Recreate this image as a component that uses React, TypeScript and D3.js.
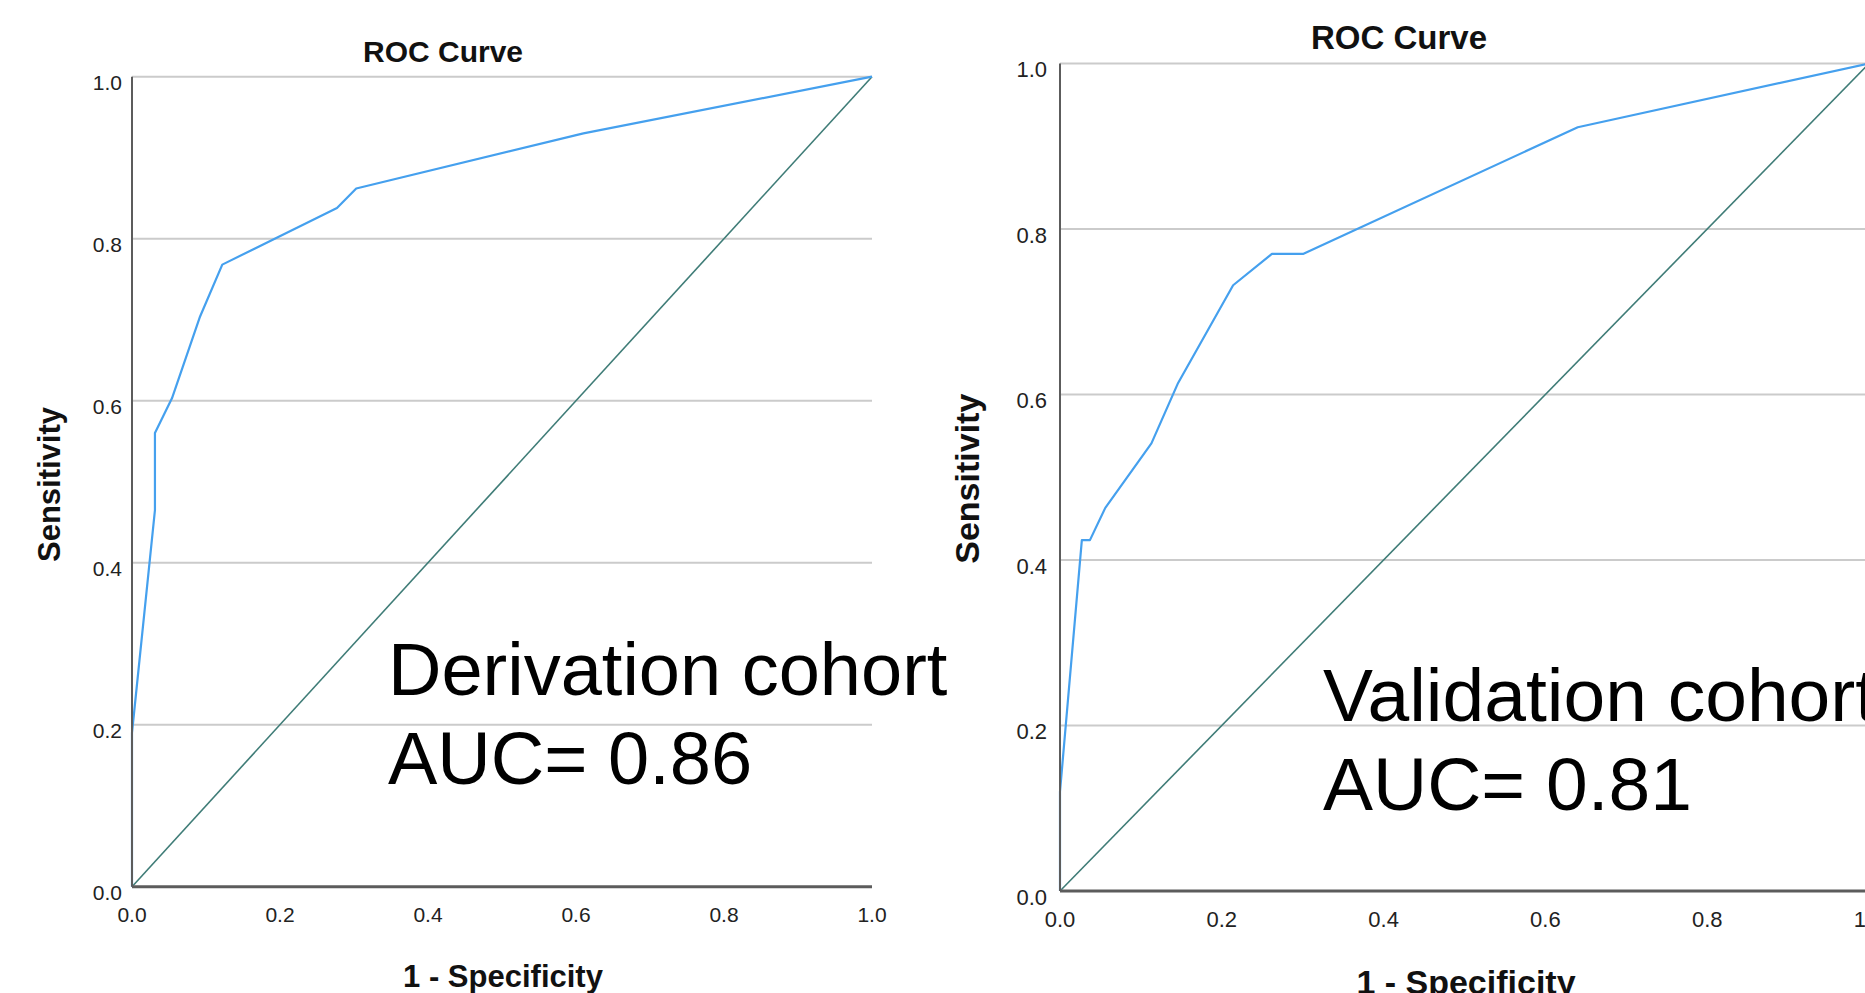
import React from "react";
import * as d3 from "d3";

// ---- Data ----
const ticks = [0, 0.2, 0.4, 0.6, 0.8, 1.0];
const tickLabels = ["0.0", "0.2", "0.4", "0.6", "0.8", "1.0"];

const derivationFpr = [0, 0, 0.031, 0.031, 0.054, 0.092, 0.122, 0.277, 0.303, 0.61, 1];
const derivationTpr = [0, 0.19, 0.465, 0.56, 0.603, 0.704, 0.768, 0.838, 0.862, 0.93, 1];

const validationFpr = [0, 0, 0.027, 0.037, 0.056, 0.113, 0.146, 0.214, 0.262, 0.301, 0.64, 1];
const validationTpr = [0, 0.12, 0.424, 0.424, 0.463, 0.541, 0.614, 0.732, 0.77, 0.77, 0.923, 1];

const referenceLine = [0, 1];

const chartTitle = "ROC Curve";
const xTitle = "1 - Specificity";
const yTitle = "Sensitivity";
const derivationLabel = ["Derivation cohort", "AUC= 0.86"];
const validationLabel = ["Validation cohort", "AUC= 0.81"];

// ---- Layout ----
const FONT = "'Liberation Sans', Arial, Helvetica, sans-serif";
const BLUE = "#45a0ee";
const TEAL = "#3f7c77";
const GRID = "#cbcbcb";
const AXIS = "#5c5c5c";

type PanelProps = {
  x0: number; x1: number; yTop: number; yBot: number;
  fpr: number[]; tpr: number[];
  tickFont: number; titleFont: number; titleX: number; titleY: number;
  axisFont: number; xTitleX: number; xTitleY: number; yTitleX: number; yTitleY: number;
  labels: string[]; labelX: number; labelY1: number; labelY2: number; labelFont: number;
  yTickGap: number;
};

function Panel(p: PanelProps) {
  const x = d3.scaleLinear().domain([0, 1]).range([p.x0, p.x1]);
  const y = d3.scaleLinear().domain([0, 1]).range([p.yBot, p.yTop]);
  const pts: [number, number][] = p.fpr.map((f, i) => [f, p.tpr[i]]);
  const line = d3.line<[number, number]>().x(d => x(d[0])).y(d => y(d[1]));
  const diag = d3.line<number>().x(d => x(d)).y(d => y(d));
  return (
    <g>
      {ticks.filter(t => t > 0).map(t => (
        <line key={"g" + t} x1={x(0)} x2={x(1)} y1={y(t)} y2={y(t)} stroke={GRID} strokeWidth={2} />
      ))}
      <path d={diag(referenceLine) || ""} fill="none" stroke={TEAL} strokeWidth={1.6} />
      <path d={line(pts) || ""} fill="none" stroke={BLUE} strokeWidth={2.2} strokeLinejoin="round" />
      <line x1={x(0)} x2={x(0)} y1={y(1)} y2={y(0)} stroke={AXIS} strokeWidth={2} />
      <line x1={x(0)} x2={x(1)} y1={y(0)} y2={y(0)} stroke={AXIS} strokeWidth={3} />
      {ticks.map((t, i) => (
        <text key={"yt" + t} x={x(0) - p.yTickGap} y={y(t) + 13.5} textAnchor="end"
          fontFamily={FONT} fontSize={p.tickFont} fill="#222">{tickLabels[i]}</text>
      ))}
      {ticks.map((t, i) => (
        <text key={"xt" + t} x={x(t)} y={y(0) + 35.5} textAnchor="middle"
          fontFamily={FONT} fontSize={p.tickFont} fill="#222">{tickLabels[i]}</text>
      ))}
      <text x={p.titleX} y={p.titleY} textAnchor="middle" fontFamily={FONT} fontWeight="bold"
        fontSize={p.titleFont} fill="#111">{chartTitle}</text>
      <text x={p.xTitleX} y={p.xTitleY} textAnchor="middle" fontFamily={FONT} fontWeight="bold"
        fontSize={p.axisFont} fill="#111">{xTitle}</text>
      <text transform={`translate(${p.yTitleX},${p.yTitleY}) rotate(-90)`} textAnchor="middle"
        fontFamily={FONT} fontWeight="bold" fontSize={p.axisFont} fill="#111">{yTitle}</text>
      <text x={p.labelX} y={p.labelY1} fontFamily={FONT} fontSize={p.labelFont} fill="#000">{p.labels[0]}</text>
      <text x={p.labelX} y={p.labelY2} fontFamily={FONT} fontSize={p.labelFont} fill="#000">{p.labels[1]}</text>
    </g>
  );
}

export default function App() {
  return (
    <svg width={1865} height={993} style={{ position: "absolute", left: 0, top: 0, display: "block", background: "#fff" }}>
      <rect x={0} y={0} width={1865} height={993} fill="#fff" />
      <Panel x0={132} x1={872} yTop={76.7} yBot={886.7} fpr={derivationFpr} tpr={derivationTpr}
        tickFont={21} titleFont={30} titleX={443} titleY={62}
        axisFont={31} xTitleX={503} xTitleY={987} yTitleX={60} yTitleY={484.5}
        labels={derivationLabel} labelX={388} labelY1={695} labelY2={784} labelFont={74} yTickGap={10} />
      <Panel x0={1060} x1={1869} yTop={63.5} yBot={891} fpr={validationFpr} tpr={validationTpr}
        tickFont={22} titleFont={33} titleX={1399} titleY={49}
        axisFont={34} xTitleX={1466} xTitleY={994} yTitleX={979} yTitleY={478.7}
        labels={validationLabel} labelX={1323} labelY1={721} labelY2={810} labelFont={75} yTickGap={13} />
    </svg>
  );
}
